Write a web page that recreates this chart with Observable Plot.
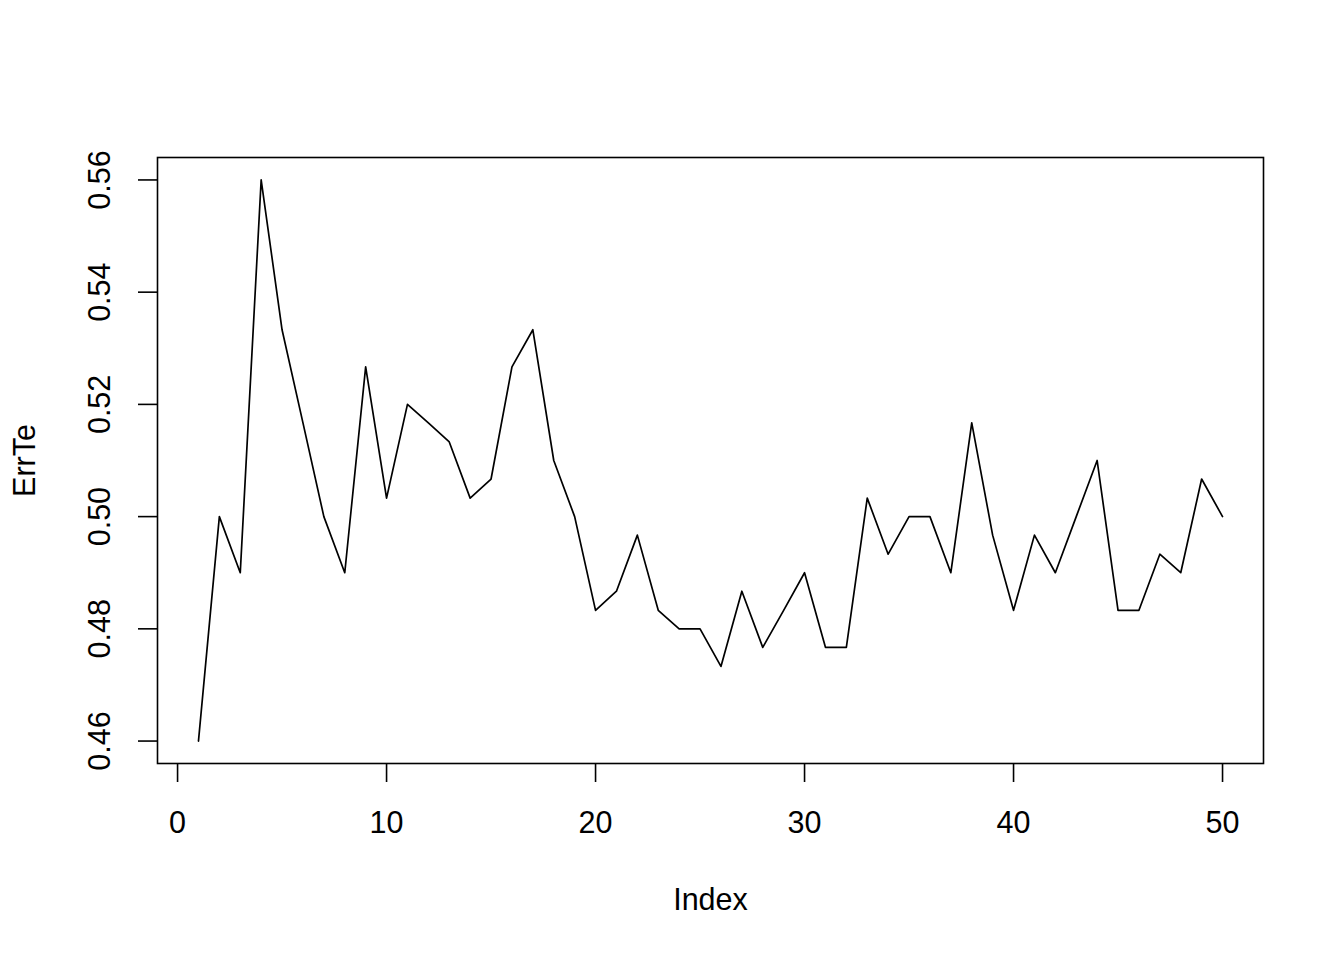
<!DOCTYPE html>
<html>
<head>
<meta charset="utf-8">
<script src="https://cdn.jsdelivr.net/npm/d3@7"></script>
<script src="https://cdn.jsdelivr.net/npm/@observablehq/plot@0.6"></script>
<style>
  html, body { margin: 0; padding: 0; background: #fff; }
  #chart svg { display: block; }
</style>
</head>
<body>
<div id="chart"></div>
<script>
const index = [1,2,3,4,5,6,7,8,9,10,11,12,13,14,15,16,17,18,19,20,21,22,23,24,25,26,27,28,29,30,31,32,33,34,35,36,37,38,39,40,41,42,43,44,45,46,47,48,49,50];
const errTe = [0.4600,0.5000,0.4900,0.5600,0.5333,0.5167,0.5000,0.4900,0.5267,0.5033,
               0.5200,0.5167,0.5133,0.5033,0.5067,0.5267,0.5333,0.5100,0.5000,0.4833,
               0.4867,0.4967,0.4833,0.4800,0.4800,0.4733,0.4867,0.4767,0.4833,0.4900,
               0.4767,0.4767,0.5033,0.4933,0.5000,0.5000,0.4900,0.5167,0.4967,0.4833,
               0.4967,0.4900,0.5000,0.5100,0.4833,0.4833,0.4933,0.4900,0.5067,0.5000];
const xTicks = [0,10,20,30,40,50];
const yTicks = [0.46,0.48,0.50,0.52,0.54,0.56];
const xLabel = "Index";
const yLabel = "ErrTe";

const data = index.map((d, i) => ({index: d, value: errTe[i]}));
const font = "'Liberation Sans', Arial, sans-serif";
const fs = 30.5;

const chart = Plot.plot({
  width: 1344,
  height: 960,
  marginLeft: 157,
  marginRight: 81,
  marginTop: 157,
  marginBottom: 197,
  style: {fontFamily: font, background: "#fff", color: "#000"},
  x: {domain: [-0.96, 51.96], axis: null},
  y: {domain: [0.456, 0.564], axis: null},
  marks: [
    Plot.frame({stroke: "#000", strokeWidth: 1.6}),
    Plot.axisX({ticks: xTicks, tickSize: 19, tickFormat: () => "", label: null, strokeWidth: 1.6, anchor: "bottom"}),
    Plot.axisY({ticks: yTicks, tickSize: 19, tickFormat: () => "", label: null, strokeWidth: 1.6, anchor: "left"}),
    Plot.text(xTicks, {x: d => d, frameAnchor: "bottom", dy: 60, text: d => String(d), fontSize: fs, lineAnchor: "middle", fill: "#000"}),
    Plot.text(yTicks, {y: d => d, frameAnchor: "left", dx: -57, rotate: -90, text: d => d.toFixed(2), fontSize: fs, textAnchor: "middle", lineAnchor: "middle", fill: "#000"}),
    Plot.text([xLabel], {frameAnchor: "bottom", dy: 137, text: d => d, fontSize: fs, lineAnchor: "middle", fill: "#000"}),
    Plot.text([yLabel], {frameAnchor: "left", dx: -132, rotate: -90, text: d => d, fontSize: fs, textAnchor: "middle", lineAnchor: "middle", fill: "#000"}),
    Plot.line(data, {x: "index", y: "value", stroke: "#000", strokeWidth: 1.7})
  ]
});
document.getElementById("chart").appendChild(chart);
</script>
</body>
</html>
